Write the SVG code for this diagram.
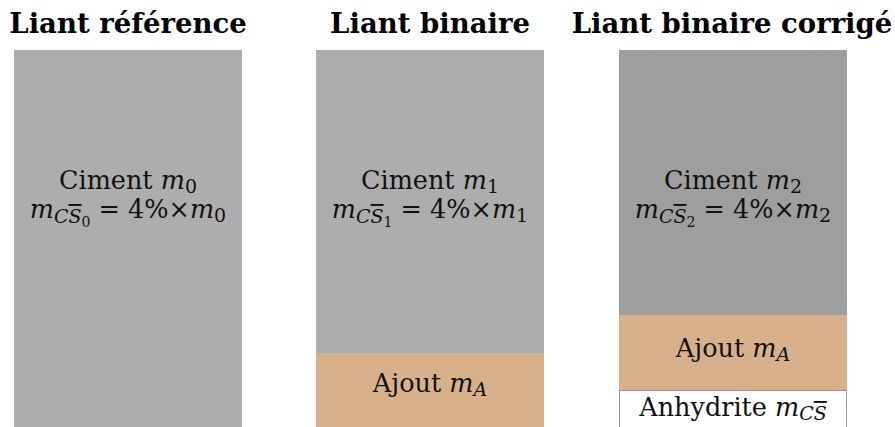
<svg xmlns="http://www.w3.org/2000/svg" width="895" height="427" viewBox="0 0 895 427">
<style>
.t{font-family:"DejaVu Serif","Liberation Serif",serif;font-weight:bold;font-size:27.5px;fill:#000;text-anchor:middle}
.l{font-family:"DejaVu Serif","Liberation Serif",serif;font-size:25.5px;fill:#111;text-anchor:middle}
.i{font-style:italic}
.s{font-size:19px}
.ss{font-size:14px}
.ov{text-decoration:overline}
.g1{fill:#adadad}
.g2{fill:#9e9e9e}
.aj{fill:#d8b18c}
</style>
<rect width="895" height="427" fill="#fff"/>
<g id="col-reference">
<text class="t" x="128" y="33">Liant référence</text>
<rect class="g1" x="14" y="50" width="228" height="377"/>
<text class="l" x="128" y="189">Ciment <tspan class="i">m</tspan><tspan class="s" dy="4">0</tspan></text>
<text class="l" x="128" y="218"><tspan class="i">m</tspan><tspan class="s i" dy="5">C</tspan><tspan class="s i ov">S</tspan><tspan class="ss" dy="4">0</tspan><tspan dy="-9"> = 4%×</tspan><tspan class="i">m</tspan><tspan class="s" dy="4">0</tspan></text>
</g>
<g id="col-binaire">
<text class="t" x="430" y="33">Liant binaire</text>
<rect class="g1" x="316" y="50" width="228" height="303"/>
<text class="l" x="430" y="189">Ciment <tspan class="i">m</tspan><tspan class="s" dy="4">1</tspan></text>
<text class="l" x="430" y="218"><tspan class="i">m</tspan><tspan class="s i" dy="5">C</tspan><tspan class="s i ov">S</tspan><tspan class="ss" dy="4">1</tspan><tspan dy="-9"> = 4%×</tspan><tspan class="i">m</tspan><tspan class="s" dy="4">1</tspan></text>
<rect class="aj" x="316" y="353" width="228" height="74"/>
<text class="l" x="430" y="392">Ajout <tspan class="i">m</tspan><tspan class="s i" dy="4">A</tspan></text>
</g>
<g id="col-corrige">
<text class="t" x="732" y="33">Liant binaire corrigé</text>
<rect class="g2" x="619" y="50" width="228" height="265"/>
<text class="l" x="733" y="189">Ciment <tspan class="i">m</tspan><tspan class="s" dy="4">2</tspan></text>
<text class="l" x="733" y="218"><tspan class="i">m</tspan><tspan class="s i" dy="5">C</tspan><tspan class="s i ov">S</tspan><tspan class="ss" dy="4">2</tspan><tspan dy="-9"> = 4%×</tspan><tspan class="i">m</tspan><tspan class="s" dy="4">2</tspan></text>
<rect class="aj" x="619" y="315" width="228" height="75"/>
<text class="l" x="733" y="357">Ajout <tspan class="i">m</tspan><tspan class="s i" dy="4">A</tspan></text>
<rect x="619.5" y="390.5" width="227" height="40" fill="#fff" stroke="#999" stroke-width="1"/>
<text class="l" x="733" y="416">Anhydrite <tspan class="i">m</tspan><tspan class="s i" dy="4">C</tspan><tspan class="s i ov">S</tspan></text>
</g>
</svg>
